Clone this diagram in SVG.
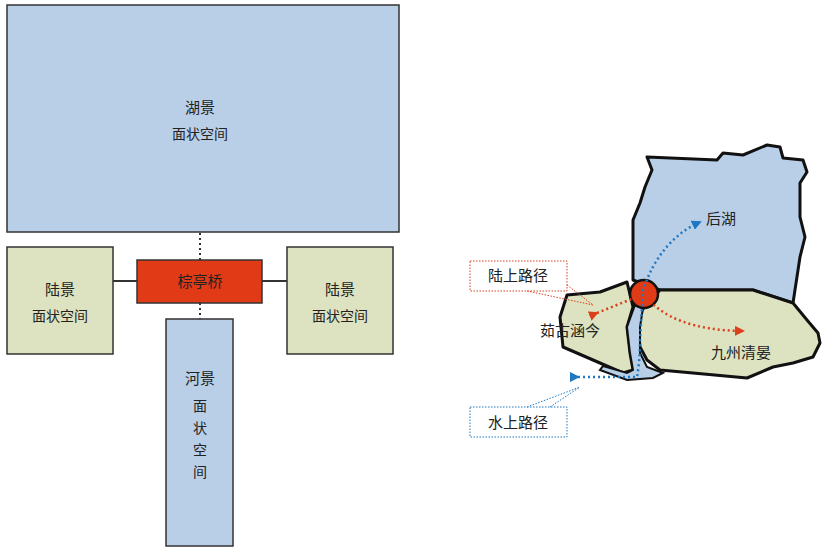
<svg xmlns="http://www.w3.org/2000/svg" width="826" height="552" viewBox="0 0 826 552">
<style>
text{font-family:"Noto Sans CJK SC","Noto Sans",sans-serif;fill:#222;text-anchor:middle}
.w{fill:#B9CFE8;stroke:#333;stroke-width:1.5}
.g{fill:#DDE2C0;stroke:#333;stroke-width:1.5}
.m{stroke:#111;stroke-width:3;stroke-linejoin:round}
.t{font-size:15px}.s{font-size:14px}
</style>
<defs>
<marker id="ab" viewBox="0 0 10 10" refX="8" refY="5" markerWidth="4" markerHeight="4" orient="auto"><path d="M0,0L10,5L0,10z" fill="#1F78C1"/></marker>
<marker id="ar" viewBox="0 0 10 10" refX="8" refY="5" markerWidth="4" markerHeight="4" orient="auto"><path d="M0,0L10,5L0,10z" fill="#D9401B"/></marker>
</defs>
<g id="connectors" fill="none">
<line x1="200" y1="233" x2="200" y2="260" stroke="#333" stroke-width="2" stroke-dasharray="2,3"/>
<line x1="200" y1="303" x2="200" y2="319" stroke="#333" stroke-width="2" stroke-dasharray="2,3"/>
<line x1="113" y1="281" x2="137" y2="281" stroke="#333" stroke-width="2"/>
<line x1="262" y1="281" x2="287" y2="281" stroke="#333" stroke-width="2"/>
</g>
<g id="lake"><rect class="w" x="7" y="5" width="392" height="227"/><text class="t" x="200" y="113">湖景</text><text class="s" x="200" y="139">面状空间</text></g>
<g id="land-left"><rect class="g" x="7" y="247" width="106" height="107"/><text class="t" x="60" y="295">陆景</text><text class="s" x="60" y="321">面状空间</text></g>
<g id="land-right"><rect class="g" x="287" y="247" width="106" height="107"/><text class="t" x="340" y="295">陆景</text><text class="s" x="340" y="321">面状空间</text></g>
<g id="bridge"><rect x="137" y="260" width="125" height="43" fill="#E03A17" stroke="#333" stroke-width="1.5"/><text class="t" x="200" y="287">棕亭桥</text></g>
<g id="river"><rect class="w" x="166" y="319" width="67" height="227"/><text class="t" x="200" y="384">河景</text><text class="s" x="200" y="411">面</text><text class="s" x="200" y="433">状</text><text class="s" x="200" y="455">空</text><text class="s" x="200" y="477">间</text></g>
<g id="map">
<path class="m" fill="#B9CFE8" d="M647,157L717,160L723,153L743,155L767,145L780,147L783,158L803,160L807,172L800,183L800,217L805,237L800,257L793,303L753,290L660,290L633,280L633,250L633,220L640,203L645,187L652,170Z"/>
<path class="m" fill="#DDE2C0" d="M660,290L753,290L793,303L807,320L818,333L820,343L813,357L793,363L773,367L747,378L693,373L660,370L647,360L640,347L638,327L642,310Z"/>
<path class="m" fill="#DDE2C0" d="M567,295L600,292L627,282L633,307L627,327L630,353L633,370L623,373L600,363L563,347L560,317Z"/>
<path stroke="#111" stroke-width="2" fill="#B9CFE8" d="M635,305L643,308L640,327L640,353L647,367L663,373L653,378L627,380L600,370L603,366L627,373L633,370L630,353L627,327Z"/>
<circle cx="644" cy="294" r="14" fill="#E03A17" stroke="#111" stroke-width="2.5"/>
<path d="M578,377L637,377Q640,360 640,340L643,290Q660,240 700,222" fill="none" stroke="#1F78C1" stroke-width="2.5" stroke-dasharray="2,3" marker-start="url(#ab)" marker-end="url(#ab)"/>
<path d="M597,313L644,294Q670,330 743,331" fill="none" stroke="#D9401B" stroke-width="2.5" stroke-dasharray="2,3" marker-start="url(#ar)" marker-end="url(#ar)"/>
<text class="t" x="721" y="224">后湖</text>
<text class="t" x="570" y="336">茹古涵今</text>
<text class="t" x="741" y="358">九州清晏</text>
</g>
<g id="label-land">
<rect x="470" y="261" width="97" height="30" fill="#fff" stroke="#D9401B" stroke-dasharray="1.5,1.5"/>
<path d="M527,291L593,305M567,285L593,305" stroke="#D9401B" stroke-dasharray="1.5,1.5"/>
<text class="t" x="518" y="281">陆上路径</text>
</g>
<g id="label-water">
<rect x="470" y="407" width="97" height="30" fill="#fff" stroke="#1F78C1" stroke-dasharray="1.5,1.5"/>
<path d="M527,407L580,387M550,407L580,387" stroke="#1F78C1" stroke-dasharray="1.5,1.5"/>
<text class="t" x="518" y="428">水上路径</text>
</g>
</svg>
